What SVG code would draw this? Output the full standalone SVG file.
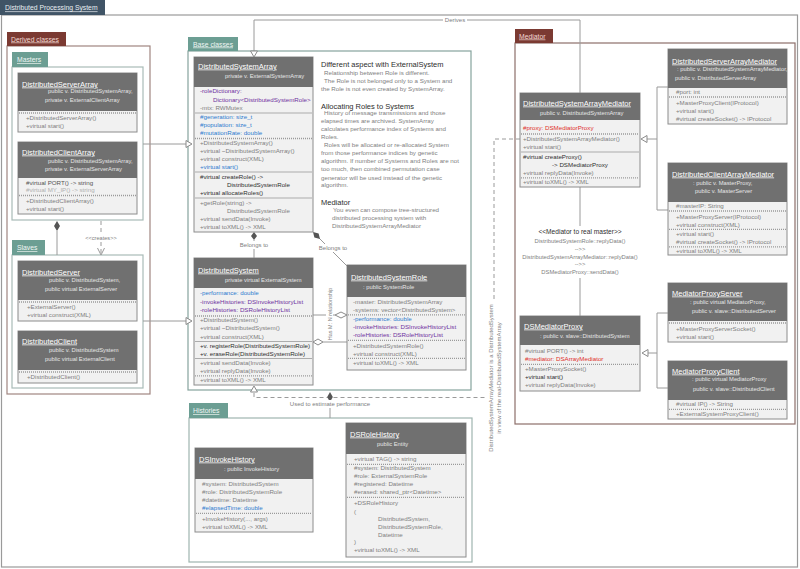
<svg xmlns="http://www.w3.org/2000/svg" width="800" height="569" viewBox="0 0 800 569">
<defs>
<style>
text{font-family:"Liberation Sans",Arial,sans-serif}
.hd{fill:#707070}
.bd{fill:#f1f1f1;stroke:#8c8c8c;stroke-width:1}
.nm{font-size:7.5px;fill:#fff;text-decoration:underline}
.sb{font-size:5.8px;fill:#e6e6e6}
.t{font-size:6.2px;fill:#808080}
.dk{fill:#2e2e2e}
.bl{fill:#2e7bcf}
.pu{fill:#7030a0}
.rd{fill:#e0302a}
.fa{fill:#b0b0b0}
.dot{stroke:#9a9a9a;stroke-width:1.3;stroke-dasharray:1 1}
.sep{stroke:#a4a4a4;stroke-width:0.9}
.tab{font-size:6.8px;text-decoration:underline}
.ln{stroke:#9a9a9a;stroke-width:1;fill:none}
.dl{stroke:#9a9a9a;stroke-width:1;fill:none;stroke-dasharray:4 3}
.lb{font-size:6px;fill:#808080;text-anchor:middle}
.hh{font-size:7.5px;fill:#2e2e2e}
.tri{fill:#fff;stroke:#8a8a8a;stroke-width:1}
.fd{fill:#555}
.wb{fill:#fff}
</style>
</defs>

<g id="frames">
<rect x="1.5" y="15" width="796" height="552" fill="#fff" stroke="#9a9a9a" stroke-width="1.2"/>
<rect x="0" y="0" width="105" height="15" fill="#405466"/>
<text x="5" y="10.4" class="tab" fill="#e8eef2">Distributed Processing System</text>

<rect x="7" y="46" width="143" height="348" fill="#fff" stroke="#a08580" stroke-width="1.2"/>
<rect x="7" y="32" width="59" height="14" fill="#7b3a32"/>
<text x="11" y="41.5" class="tab" fill="#f3d9d3">Derived classes</text>

<rect x="12" y="67" width="131" height="153" fill="#fff" stroke="#a9bbb7" stroke-width="1.2"/>
<rect x="12" y="52" width="36" height="15" fill="#6c9e93"/>
<text x="17" y="62.3" class="tab" fill="#f0f6f4">Masters</text>

<rect x="12" y="255" width="131" height="133" fill="#fff" stroke="#a9bbb7" stroke-width="1.2"/>
<rect x="12" y="240" width="33" height="15" fill="#6c9e93"/>
<text x="17" y="250.3" class="tab" fill="#f0f6f4">Slaves</text>

<rect x="188" y="51" width="283" height="339" fill="#fff" stroke="#86a39d" stroke-width="1.2"/>
<rect x="188" y="37" width="50" height="14" fill="#6c9e93"/>
<text x="193" y="46.5" class="tab" fill="#f0f6f4">Base classes</text>

<rect x="189" y="418" width="283" height="144" fill="#fff" stroke="#9fb5b0" stroke-width="1.2"/>
<rect x="189" y="403" width="39" height="15" fill="#6c9e93"/>
<text x="193" y="413.3" class="tab" fill="#f0f6f4">Histories</text>

<rect x="515" y="43" width="280" height="381" fill="#fff" stroke="#8d6f6a" stroke-width="1.2"/>
<rect x="515" y="29" width="38" height="14" fill="#7b3a32"/>
<text x="519" y="38.5" class="tab" fill="#f3d9d3">Mediator</text>
</g>

<g id="connectors">
<!-- Derives -->
<polyline class="ln" points="580,93 580,20 254,20 254,51"/>
<polygon class="tri" points="254,57 250.5,51 257.5,51"/>
<rect class="wb" x="443" y="16" width="24" height="8"/>
<text class="lb" x="455" y="22.2">Derives</text>
<!-- Masters / Slaves to base -->
<line class="ln" x1="143" y1="144" x2="186" y2="144"/>
<polygon class="tri" points="192,144 186,140.5 186,147.5"/>
<line class="ln" x1="143" y1="321" x2="186" y2="321"/>
<polygon class="tri" points="192,321 186,317.5 186,324.5"/>
<!-- masters compose slaves -->
<line class="ln" x1="57" y1="231" x2="57" y2="255"/>
<polygon class="fd" points="57,221 60,226 57,231 54,226"/>
<!-- creates -->
<line class="dl" x1="101" y1="221" x2="101" y2="254"/>
<polyline class="ln" points="97.5,248 101,255 104.5,248"/>
<rect class="wb" x="85" y="234" width="32" height="8"/>
<text class="lb" x="101" y="240" style="font-size:5.6px">&lt;&lt;creates&gt;&gt;</text>
<!-- Belongs to 1 -->
<line class="ln" x1="254" y1="240" x2="254" y2="258"/>
<polygon class="fd" points="254,232 257,236 254,240 251,236"/>
<rect class="wb" x="239" y="241" width="30" height="8"/>
<text class="lb" x="254" y="247">Belongs to</text>
<!-- Belongs to 2 -->
<line class="ln" x1="319" y1="238" x2="347" y2="266"/>
<polygon class="fd" points="313,232 318.6,233.4 320,239 314.4,237.6"/>
<rect class="wb" x="318" y="244" width="30" height="8"/>
<text class="lb" x="333" y="250">Belongs to</text>
<!-- M:N -->
<line class="ln" x1="313" y1="315" x2="335" y2="315"/>
<polygon class="tri" points="347,315 341,312 335,315 341,318"/>
<line class="ln" x1="323" y1="342" x2="347" y2="342"/>
<polygon class="tri" points="313,342 318,339 323,342 318,345"/>
<rect class="wb" x="326" y="287" width="7" height="54"/>
<text class="lb" transform="translate(331.5,314) rotate(-90)" style="font-size:5.5px">Has M: N relationship</text>
<!-- DSAM is a DistributedSystem -->
<polyline class="dl" points="520,139 494,139 494,397.5 254,397.5 254,392"/>
<polygon class="tri" points="254,386 250.5,392 257.5,392"/>
<rect class="wb" x="486" y="302" width="17" height="152"/>
<text class="lb" transform="translate(493,378) rotate(-90)">DistributedSystemArrayMediator is a DistributedSystem</text>
<text class="lb" transform="translate(501,378) rotate(-90)">in view of the real-DistributedSystemArray</text>
<!-- Used to estimate performance -->
<line class="ln" x1="330" y1="402" x2="330" y2="418"/>
<polygon class="fd" points="330,392 332.8,397 330,402 327.2,397"/>
<rect class="wb" x="288" y="400" width="84" height="8"/>
<text class="lb" x="330" y="406">Used to estimate performance</text>
<!-- DSAM children -->
<polyline class="ln" points="668,87 657,87 657,210 668,210"/>
<line class="ln" x1="647" y1="139" x2="657" y2="139"/>
<polygon class="tri" points="641,139 647,135.5 647,142.5"/>
<!-- DSMP children -->
<polyline class="ln" points="668,313 657,313 657,388 668,388"/>
<line class="ln" x1="648" y1="353" x2="657" y2="353"/>
<polygon class="tri" points="642,353 648,349.5 648,356.5"/>
<!-- Mediator to real master -->
<line class="ln" x1="580" y1="187" x2="580" y2="226"/>
<line class="ln" x1="580" y1="278" x2="580" y2="316"/>
<text x="580" y="234" text-anchor="middle" style="font-size:6.6px;fill:#2e2e2e">&lt;&lt;Mediator to real master&gt;&gt;</text>
<text class="lb" x="580" y="243" style="font-size:5.8px">DistributedSystemRole::replyData()</text>
<text class="lb" x="580" y="251" style="font-size:5.8px">--&gt;&gt;</text>
<text class="lb" x="580" y="258.5" style="font-size:5.8px">DistributedSystemArrayMediator::replyData()</text>
<text class="lb" x="580" y="266" style="font-size:5.8px">--&gt;&gt;</text>
<text class="lb" x="580" y="274" style="font-size:5.8px">DSMediatorProxy::sendData()</text>
</g>

<g id="DistributedServerArray">
<rect class="bd" x="18" y="73" width="119" height="59"/>
<rect class="hd" x="18" y="73" width="119" height="38"/>
<text class="nm" x="22" y="86.5">DistributedServerArray</text>
<text class="sb" x="48" y="93">public v. DistributedSystemArray,</text>
<text class="sb" x="45" y="102">private v. ExternalClientArray</text>
<line class="dot" x1="19" y1="113" x2="136" y2="113"/>
<text class="t" x="26" y="120.3">+DistributedServerArray()</text>
<text class="t" x="26" y="128.3">+virtual start()</text>
</g>

<g id="DistributedClientArray">
<rect class="bd" x="18" y="142" width="119" height="72"/>
<rect class="hd" x="18" y="142" width="119" height="36"/>
<text class="nm" x="22" y="154.5">DistributedClientArray</text>
<text class="sb" x="48" y="163">public v. DistributedSystemArray,</text>
<text class="sb" x="45" y="170.5">private v. ExternalServerArray</text>
<text class="t" x="26" y="185.2" style="fill:#555">#virtual PORT() -&gt; string</text>
<text class="t fa" x="26" y="192.3">#virtual MY_IP() -&gt; string</text>
<line class="dot" x1="19" y1="195.5" x2="136" y2="195.5"/>
<text class="t" x="26" y="203.2">+DistributedClientArray()</text>
<text class="t" x="26" y="211.2">+virtual start()</text>
</g>

<g id="DistributedServer">
<rect class="bd" x="18" y="261" width="119" height="60"/>
<rect class="hd" x="18" y="261" width="119" height="39"/>
<text class="nm" x="22" y="274.5">DistributedServer</text>
<text class="sb" x="49" y="282">public v. DistributedSystem,</text>
<text class="sb" x="45" y="291">public virtual ExternalServer</text>
<line class="dot" x1="19" y1="302" x2="136" y2="302"/>
<text class="t" x="27" y="309.2">+ExternalServer()</text>
<text class="t" x="27" y="317.2">+virtual construct(XML)</text>
</g>

<g id="DistributedClient">
<rect class="bd" x="18" y="331" width="119" height="52"/>
<rect class="hd" x="18" y="331" width="119" height="39"/>
<text class="nm" x="22" y="343.5">DistributedClient</text>
<text class="sb" x="49" y="352">public v. DistributedSystem</text>
<text class="sb" x="45" y="361">public virtual ExternalClient</text>
<line class="dot" x1="19" y1="372" x2="136" y2="372"/>
<text class="t" x="27" y="379.2">+DistributedClient()</text>
</g>

<g id="DistributedSystemArray">
<rect class="bd" x="194" y="57" width="119" height="175"/>
<rect class="hd" x="194" y="57" width="119" height="30"/>
<text class="nm" x="198" y="68.5">DistributedSystemArray</text>
<text class="sb" x="225" y="78">private v. ExternalSystemArray</text>
<text class="t pu" x="200" y="93">-roleDictionary:</text>
<text class="t pu" x="213" y="102">Dictionary&lt;DistributedSystemRole&gt;</text>
<text class="t" x="200" y="110">-mtx: RWMutex</text>
<line class="sep" x1="195" y1="113" x2="312" y2="113"/>
<text class="t bl" x="200" y="119.3">#generation: size_t</text>
<text class="t bl" x="200" y="127.3">#population: size_t</text>
<text class="t bl" x="200" y="135.3">#mutationRate: double</text>
<line class="dot" x1="195" y1="138.5" x2="312" y2="138.5"/>
<text class="t" x="200" y="145.2">+DistributedSystemArray()</text>
<text class="t" x="200" y="153.2">+virtual ~DistributedSystemArray()</text>
<text class="t" x="200" y="161.2">+virtual construct(XML)</text>
<text class="t bl" x="200" y="169.2">+virtual start()</text>
<line class="sep" x1="195" y1="172" x2="312" y2="172"/>
<text class="t dk" x="200" y="179.2">#virtual createRole() -&gt;</text>
<text class="t dk" x="227" y="187.2">DistributedSystemRole</text>
<text class="t dk" x="200" y="195.2">+virtual allocateRoles()</text>
<line class="sep" x1="195" y1="198" x2="312" y2="198"/>
<text class="t" x="200" y="205.2">+getRole(string) -&gt;</text>
<text class="t" x="227" y="213.2">DistributedSystemRole</text>
<text class="t" x="200" y="220.5">+virtual sendData(Invoke)</text>
<text class="t" x="200" y="228.5">+virtual toXML() -&gt; XML</text>
</g>

<g id="Notes">
<text class="hh" x="321" y="66.5">Different aspect with ExternalSystem</text>
<text class="t" x="324" y="75.2">Relationship between Role is different.</text>
<text class="t" x="324" y="83.2">The Role is not belonged only to a System and</text>
<text class="t" x="321" y="90.7">the Role is not even created by SystemArray.</text>
<text class="hh" x="321" y="108.5">Allocating Roles to Systems</text>
<text class="t" x="324" y="115.2">History of message transmissions and those</text>
<text class="t" x="321" y="123.2">elapsed times are archived. SystemArray</text>
<text class="t" x="321" y="131.2">calculates performance index of Systems and</text>
<text class="t" x="321" y="139.2">Roles.</text>
<text class="t" x="324" y="147.2">Roles will be allocated or re-allocated System</text>
<text class="t" x="321" y="155.2">from those performance indices by genetic</text>
<text class="t" x="321" y="163.2">algorithm. If number of Systems and Roles are not</text>
<text class="t" x="321" y="171.2">too much, then combined permutation case</text>
<text class="t" x="321" y="179.7">generator will be used instead of the genetic</text>
<text class="t" x="321" y="187.2">algorithm.</text>
<text class="hh" x="321" y="204.5">Mediator</text>
<text class="t" x="333" y="212.2">You even can compose tree-structured</text>
<text class="t" x="332" y="220.2">distributed processing system with</text>
<text class="t" x="332" y="228.2">DistributedSystemArrayMediator</text>
</g>

<g id="DistributedSystem">
<rect class="bd" x="194" y="258" width="119" height="127"/>
<rect class="hd" x="194" y="258" width="119" height="30"/>
<text class="nm" x="198" y="272.5">DistributedSystem</text>
<text class="sb" x="225" y="281.5">private virtual ExternalSystem</text>
<text class="t bl" x="200" y="295.2">-performance: double</text>
<text class="t pu" x="200" y="304.2">-invokeHistories: DSInvokeHistoryList</text>
<text class="t pu" x="200" y="312.2">-roleHistories: DSRoleHistoryList</text>
<line class="dot" x1="195" y1="316" x2="312" y2="316"/>
<text class="t" x="200" y="322.2">+DistributedSystem()</text>
<text class="t" x="200" y="330.2">+virtual ~DistributedSystem()</text>
<text class="t" x="200" y="338.7">+virtual construct(XML)</text>
<line class="sep" x1="195" y1="341.5" x2="312" y2="341.5"/>
<text class="t dk" x="200" y="348.2">+v. registerRole(DistributedSystemRole)</text>
<text class="t dk" x="200" y="355.7">+v. eraseRole(DistributedSystemRole)</text>
<line class="sep" x1="195" y1="358.5" x2="312" y2="358.5"/>
<text class="t" x="200" y="365.2">+virtual sendData(Invoke)</text>
<text class="t" x="200" y="373.2">+virtual replyData(Invoke)</text>
<line class="dot" x1="195" y1="375.8" x2="312" y2="375.8"/>
<text class="t" x="200" y="382.2">+virtual toXML() -&gt; XML</text>
</g>

<g id="DistributedSystemRole">
<rect class="bd" x="347" y="265" width="119" height="105"/>
<rect class="hd" x="347" y="265" width="119" height="32"/>
<text class="nm" x="351" y="279.5">DistributedSystemRole</text>
<text class="sb" x="363" y="289">: public SystemRole</text>
<text class="t" x="353" y="304.2">-master: DistributedSystemArray</text>
<text class="t" x="353" y="312.2">-systems: vector&lt;DistributedSystem&gt;</text>
<line class="dot" x1="348" y1="314.8" x2="465" y2="314.8"/>
<text class="t bl" x="353" y="321.2">-performance: double</text>
<text class="t pu" x="353" y="329.2">-invokeHistories: DSInvokeHistoryList</text>
<text class="t pu" x="353" y="337.2">-roleHistories: DSRoleHistoryList</text>
<line class="dot" x1="348" y1="340.3" x2="465" y2="340.3"/>
<text class="t" x="353" y="348.2">+DistributedSystemRole()</text>
<text class="t" x="353" y="355.5">+virtual construct(XML)</text>
<line class="dot" x1="348" y1="358.3" x2="465" y2="358.3"/>
<text class="t" x="353" y="365.2">+virtual toXML() -&gt; XML</text>
</g>

<g id="DSInvokeHistory">
<rect class="bd" x="195" y="448" width="118" height="84"/>
<rect class="hd" x="195" y="448" width="118" height="31"/>
<text class="nm" x="199" y="461.5">DSInvokeHistory</text>
<text class="sb" x="224" y="471">: public InvokeHistory</text>
<text class="t" x="202" y="486.2">#system: DistributedSystem</text>
<text class="t" x="202" y="494.2">#role: DistributedSystemRole</text>
<text class="t" x="202" y="502.2">#datetime: Datetime</text>
<text class="t bl" x="202" y="510.2">#elapsedTime: double</text>
<line class="dot" x1="196" y1="513.3" x2="312" y2="513.3"/>
<text class="t" x="202" y="521.2">+InvokeHistory(..., args)</text>
<text class="t" x="202" y="529.2">+virtual toXML() -&gt; XML</text>
</g>

<g id="DSRoleHistory">
<rect class="bd" x="346" y="423" width="120" height="134"/>
<rect class="hd" x="346" y="423" width="120" height="31"/>
<text class="nm" x="350" y="436.5">DSRoleHistory</text>
<text class="sb" x="377" y="446">public Entity</text>
<text class="t" x="354" y="461.2">+virtual TAG() -&gt; string</text>
<line class="dot" x1="347" y1="464.3" x2="465" y2="464.3"/>
<text class="t" x="354" y="470.2">#system: DistributedSystem</text>
<text class="t" x="354" y="478.2">#role: ExternalSystemRole</text>
<text class="t" x="354" y="486.2">#registered: Datetime</text>
<text class="t" x="354" y="494.2">#erased: shared_ptr&lt;Datetime&gt;</text>
<line class="dot" x1="347" y1="497.3" x2="465" y2="497.3"/>
<text class="t" x="354" y="505.2">+DSRoleHistory</text>
<text class="t" x="354" y="514.2">(</text>
<text class="t" x="378" y="521.2">DistributedSystem,</text>
<text class="t" x="378" y="529.2">DistributedSystemRole,</text>
<text class="t" x="378" y="537.2">Datetime</text>
<text class="t" x="354" y="544.2">)</text>
<text class="t" x="354" y="552.2">+virtual toXML() -&gt; XML</text>
</g>

<g id="DistributedSystemArrayMediator">
<rect class="bd" x="520" y="93" width="120" height="94"/>
<rect class="hd" x="520" y="93" width="120" height="27"/>
<text class="nm" x="523" y="105.5">DistributedSystemArrayMediator</text>
<text class="sb" x="540" y="115">public v. DistributedSystemArray</text>
<text class="t rd" x="523" y="130.2">#proxy: DSMediatorProxy</text>
<line class="dot" x1="521" y1="134" x2="639" y2="134"/>
<text class="t" x="523" y="141.2">+DistributedSystemArrayMediator()</text>
<text class="t" x="523" y="149.2">+virtual start()</text>
<line class="sep" x1="521" y1="152" x2="639" y2="152"/>
<text class="t dk" x="523" y="159.2">#virtual createProxy()</text>
<text class="t dk" x="552" y="167.2">-&gt; DSMediatorProxy</text>
<text class="t" x="523" y="175.2">+virtual replyData(Invoke)</text>
<line class="dot" x1="521" y1="177.8" x2="639" y2="177.8"/>
<text class="t" x="523" y="184.2">+virtual toXML() -&gt; XML</text>
</g>

<g id="DistributedServerArrayMediator">
<rect class="bd" x="668" y="49" width="119" height="75"/>
<rect class="hd" x="668" y="49" width="119" height="39"/>
<text class="nm" x="672" y="63.5">DistributedServerArrayMediator</text>
<text class="sb" x="677" y="71">: public v. DistributedSystemArrayMediator,</text>
<text class="sb" x="675" y="80">public v. DistributedServerArray</text>
<text class="t" x="676" y="94.2">#port: int</text>
<line class="dot" x1="669" y1="97" x2="786" y2="97"/>
<text class="t" x="676" y="105.2">+MasterProxyClient(IProtocol)</text>
<text class="t" x="676" y="113.2">+virtual start()</text>
<text class="t" x="676" y="121.2">#virtual createSocket() -&gt; IProtocol</text>
</g>

<g id="DistributedClientArrayMediator">
<rect class="bd" x="668" y="163" width="119" height="92"/>
<rect class="hd" x="668" y="163" width="119" height="39"/>
<text class="nm" x="672" y="176.5">DistributedClientArrayMediator</text>
<text class="sb" x="693" y="185">: public v. MasterProxy,</text>
<text class="sb" x="695" y="193">public v. MasterServer</text>
<text class="t" x="676" y="208.2">#masterIP: String</text>
<line class="dot" x1="669" y1="211" x2="786" y2="211"/>
<text class="t" x="676" y="219.2">+MasterProxyServer(IProtocol)</text>
<text class="t" x="676" y="226.5">+virtual construct(XML)</text>
<line class="dot" x1="669" y1="229.3" x2="786" y2="229.3"/>
<text class="t" x="676" y="236.2">+virtual start()</text>
<text class="t" x="676" y="244">#virtual createSocket() -&gt; IProtocol</text>
<line class="dot" x1="669" y1="246.8" x2="786" y2="246.8"/>
<text class="t" x="676" y="253.2">+virtual toXML() -&gt; XML</text>
</g>

<g id="DSMediatorProxy">
<rect class="bd" x="520" y="316" width="120" height="75"/>
<rect class="hd" x="520" y="316" width="120" height="29"/>
<text class="nm" x="524" y="328.5">DSMediatorProxy</text>
<text class="sb" x="540" y="338">: public v. slave::DistributedSystem</text>
<text class="t" x="525" y="353.2">#virtual PORT() -&gt; int</text>
<text class="t rd" x="525" y="361.2">#mediator: DSArrayMediator</text>
<line class="dot" x1="521" y1="364.3" x2="639" y2="364.3"/>
<text class="t" x="525" y="371.2">+MasterProxySocket()</text>
<text class="t dk" x="525" y="379.2">+virtual start()</text>
<text class="t" x="525" y="387.2">+virtual replyData(Invoke)</text>
</g>

<g id="MediatorProxyServer">
<rect class="bd" x="668" y="283" width="119" height="59"/>
<rect class="hd" x="668" y="283" width="119" height="38"/>
<text class="nm" x="672" y="295.5">MediatorProxyServer</text>
<text class="sb" x="690" y="304">: public virtual MediatorProxy,</text>
<text class="sb" x="692" y="313">public v. slave::DistributedServer</text>
<line class="dot" x1="669" y1="323" x2="786" y2="323"/>
<text class="t" x="676" y="331.2">+MasterProxyServerSocket()</text>
<text class="t" x="676" y="339.2">+virtual start()</text>
</g>

<g id="MediatorProxyClient">
<rect class="bd" x="668" y="361" width="119" height="58"/>
<rect class="hd" x="668" y="361" width="119" height="39"/>
<text class="nm" x="672" y="373.5">MediatorProxyClient</text>
<text class="sb" x="692" y="381">: public virtual MediatorProxy</text>
<text class="sb" x="693" y="391">public v. slave::DistributedClient</text>
<text class="t" x="676" y="406.2">#virtual IP() -&gt; String</text>
<line class="dot" x1="669" y1="409.3" x2="786" y2="409.3"/>
<text class="t" x="676" y="416.2">+ExternalSystemProxyClient()</text>
</g>
</svg>
